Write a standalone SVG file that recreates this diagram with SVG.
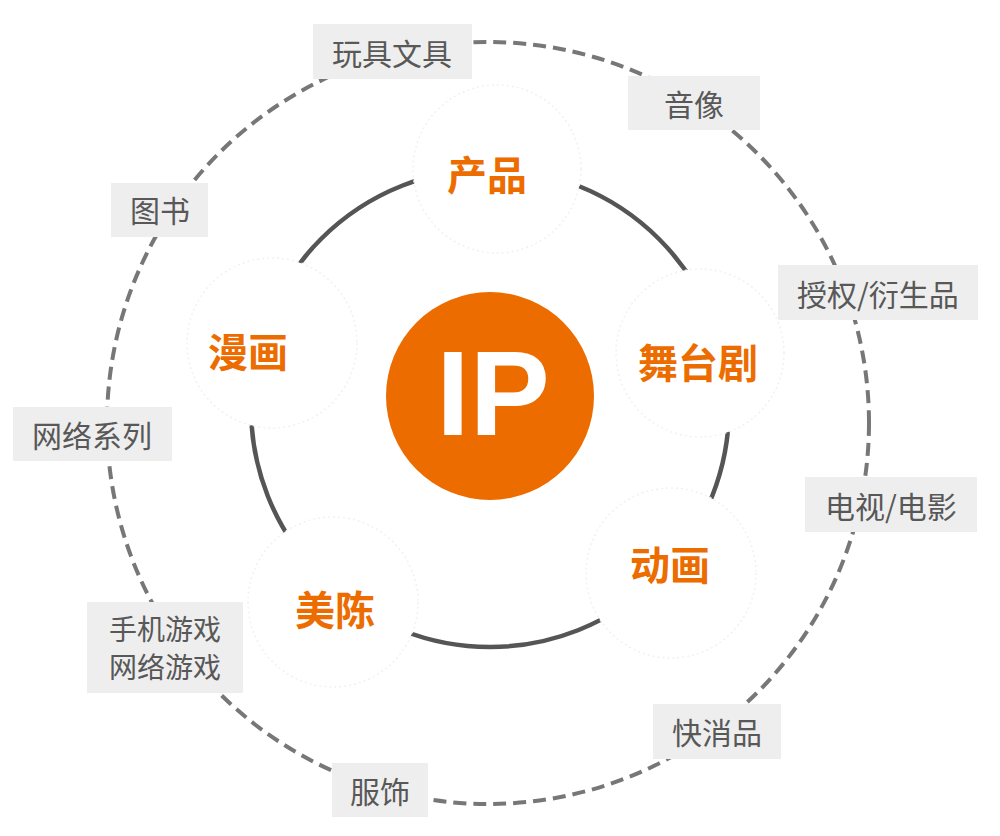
<svg xmlns="http://www.w3.org/2000/svg" width="1000" height="836" viewBox="0 0 1000 836">
<style>
.lbl rect{fill:#eeeeee}
.lbl text{font-family:"Noto Sans CJK SC","Noto Sans",sans-serif;font-size:30px;fill:#585858;text-anchor:middle;dominant-baseline:central}
.lbl text.two{font-size:28px}
.node circle{fill:#ffffff;stroke:#f1f1f1;stroke-width:1.5;stroke-dasharray:2 3}
.node text{font-family:"Noto Sans CJK SC","Noto Sans",sans-serif;font-size:40px;font-weight:bold;fill:#ec6c00;text-anchor:middle;dominant-baseline:central}
</style>
<rect width="1000" height="836" fill="#ffffff"/>
<g id="connectors">
<circle cx="488" cy="423" r="381" fill="none" stroke="#777777" stroke-width="4" stroke-dasharray="13 7"/>
<circle cx="490" cy="408" r="239" fill="none" stroke="#555555" stroke-width="4.5"/>
</g>
<g id="ip">
<circle cx="490" cy="396" r="104" fill="#ec6c00"/>
<text x="493" y="435" font-family="Liberation Sans, Arial, sans-serif" font-size="120" font-weight="bold" fill="#ffffff" text-anchor="middle">IP</text>
</g>
<g id="node-chanpin" class="node"><circle cx="497" cy="169" r="84"/><text x="487" y="173">产品</text></g>
<g id="node-wutaiju" class="node"><circle cx="700" cy="353" r="84"/><text x="698" y="361">舞台剧</text></g>
<g id="node-donghua" class="node"><circle cx="671" cy="573" r="85"/><text x="670" y="563">动画</text></g>
<g id="node-meichen" class="node"><circle cx="333" cy="602" r="85"/><text x="335" y="608">美陈</text></g>
<g id="node-manhua" class="node"><circle cx="272" cy="343" r="85"/><text x="248" y="350">漫画</text></g>
<g id="lbl-wanju" class="lbl"><rect x="313" y="24" width="159" height="55"/><text x="392" y="52">玩具文具</text></g>
<g id="lbl-yinxiang" class="lbl"><rect x="628" y="76" width="132" height="54"/><text x="694" y="103">音像</text></g>
<g id="lbl-tushu" class="lbl"><rect x="111" y="183" width="97" height="54"/><text x="160" y="209">图书</text></g>
<g id="lbl-shouquan" class="lbl"><rect x="778" y="265" width="200" height="55"/><text x="878" y="293">授权/衍生品</text></g>
<g id="lbl-dianshi" class="lbl"><rect x="805" y="477" width="172" height="55"/><text x="891" y="505">电视/电影</text></g>
<g id="lbl-wangluo" class="lbl"><rect x="13" y="407" width="159" height="54"/><text x="92" y="434">网络系列</text></g>
<g id="lbl-youxi" class="lbl"><rect x="87" y="602" width="156" height="91"/><text class="two" x="165" y="628">手机游戏</text><text class="two" x="165" y="666">网络游戏</text></g>
<g id="lbl-fushi" class="lbl"><rect x="332" y="763" width="96" height="54"/><text x="380" y="790">服饰</text></g>
<g id="lbl-kuaixiao" class="lbl"><rect x="653" y="704" width="128" height="55"/><text x="717" y="731">快消品</text></g>
</svg>
